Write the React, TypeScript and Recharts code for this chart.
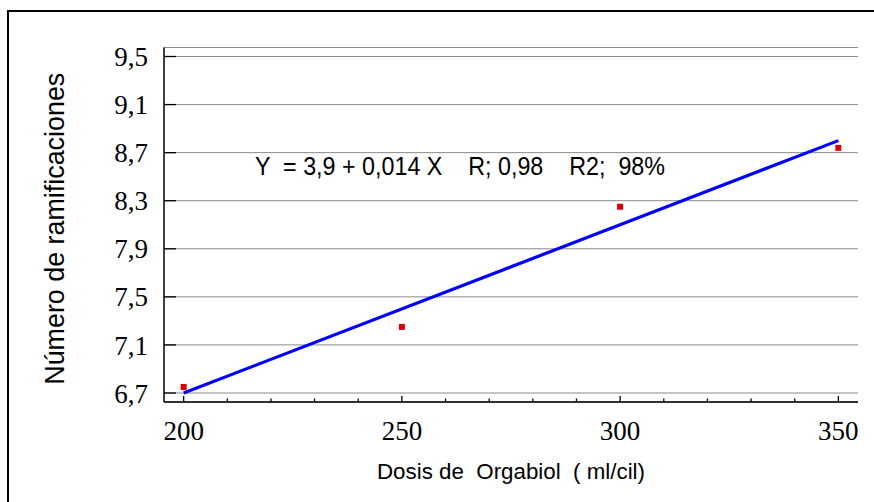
import React from "react";
import {
    ScatterChart,
    Scatter,
    XAxis,
    YAxis,
    CartesianGrid,
    Customized,
} from "recharts";

// observed values (red squares)
const dosis = [200, 250, 300, 350];
const ramificaciones = [6.75, 7.25, 8.25, 8.74];

// fitted line Y = 3,9 + 0,014 X, end points
const fitX = [200, 350];
const fitY = [6.7, 8.8];

const xTicks = [200, 210, 220, 230, 240, 250, 260, 270, 280, 290, 300, 310, 320, 330, 340, 350];
const xLabels = [200, 250, 300, 350];
const yTicks = [6.7, 7.1, 7.5, 7.9, 8.3, 8.7, 9.1, 9.5];

const points = dosis.map((x, i) => ({ x, y: ramificaciones[i] }));
const fitLine = fitX.map((x, i) => ({ x, y: fitY[i] }));

const serif = "'Liberation Serif', 'Times New Roman', serif";
const sans = "'Liberation Sans', Arial, sans-serif";

const BottomTick = (props: any) => {
    const { x, y, payload } = props;
    const axisY = y - 19;
    const major = xLabels.includes(payload.value);
    return (
        <g>
            <line x1={x} x2={x} y1={axisY} y2={axisY - (major ? 6 : 3.5)} stroke="#000" strokeWidth={1.3} />
            {major && (
                <text x={x} y={y} dy="0.71em" textAnchor="middle" fontFamily={serif} fontSize={27} fill="#000">
                    {payload.value}
                </text>
            )}
        </g>
    );
};

const TopTick = (props: any) => {
    const { x, y, payload } = props;
    const major = xLabels.includes(payload.value);
    return <line x1={x} x2={x} y1={y} y2={y + (major ? 6 : 3.5)} stroke="#000" strokeWidth={1.3} />;
};

const LeftTick = (props: any) => {
    const { x, y, payload } = props;
    const axisX = x + 16;
    return (
        <g>
            <line x1={axisX} x2={axisX + 12} y1={y} y2={y} stroke="#000" strokeWidth={1.3} />
            <text x={x} y={y} dy="0.355em" textAnchor="end" fontFamily={serif} fontSize={27} fill="#000">
                {payload.value.toFixed(1).replace(".", ",")}
            </text>
        </g>
    );
};

const RightTick = (props: any) => {
    const { x, y } = props;
    return <line x1={x} x2={x - 13} y1={y} y2={y} stroke="#000" strokeWidth={1.3} />;
};

const Square = (props: any) => {
    const { cx, cy } = props;
    return <rect x={cx - 3} y={cy - 3} width={6} height={6} fill="#dd0000" />;
};

const Nothing = () => <g />;

export default function App() {
    return (
        <div style={{ position: "absolute", left: 0, top: 0, width: 874, height: 502, overflow: "hidden", background: "#fff" }}>
            <div
                style={{
                    position: "absolute",
                    left: 7,
                    top: 10,
                    width: 900,
                    height: 600,
                    border: "2.5px solid #000",
                }}
            />
            <ScatterChart
                width={874}
                height={502}
                margin={{ top: 47.5, right: 16, bottom: 0, left: 0 }}
                style={{ position: "absolute", left: 0, top: 0 }}
            >
                <CartesianGrid vertical={false} stroke="#8a8a8a" strokeWidth={1} />
                <XAxis
                    type="number"
                    dataKey="x"
                    domain={[195.5, 354.5]}
                    ticks={xTicks}
                    interval={0}
                    height={100}
                    tickSize={0}
                    tickMargin={19}
                    tickLine={false}
                    axisLine={{ stroke: "#000", strokeWidth: 1.5 }}
                    tick={<BottomTick />}
                    allowDataOverflow
                    label={{
                        content: (p: any) => (
                            <text
                                x={p.viewBox.x + p.viewBox.width / 2}
                                y={p.viewBox.y + 77}
                                textAnchor="middle"
                                fontFamily={sans}
                                fontSize={22}
                                fill="#000"
                                textLength={268}
                                lengthAdjust="spacingAndGlyphs"
                                style={{ whiteSpace: "pre" }}
                            >
                                {"Dosis de  Orgabiol  ( ml/cil)"}
                            </text>
                        ),
                    }}
                />
                <XAxis
                    xAxisId="top"
                    orientation="top"
                    type="number"
                    dataKey="x"
                    domain={[195.5, 354.5]}
                    ticks={xTicks}
                    interval={0}
                    height={0}
                    tickSize={0}
                    tickMargin={0}
                    tickLine={false}
                    axisLine={{ stroke: "#000", strokeWidth: 1.5 }}
                    tick={<TopTick />}
                    allowDataOverflow
                />
                <YAxis
                    type="number"
                    dataKey="y"
                    domain={[6.625, 9.575]}
                    ticks={yTicks}
                    interval={0}
                    width={164}
                    tickSize={0}
                    tickMargin={16}
                    tickLine={false}
                    axisLine={{ stroke: "#000", strokeWidth: 1.5 }}
                    tick={<LeftTick />}
                    allowDataOverflow
                    label={{
                        content: (p: any) => {
                            const cx = p.viewBox.x + 54;
                            const cy = p.viewBox.y + p.viewBox.height / 2 + 4;
                            return (
                                <text
                                    x={cx}
                                    y={cy}
                                    transform={`rotate(-90 ${cx} ${cy})`}
                                    textAnchor="middle"
                                    dy="0.36em"
                                    fontFamily={sans}
                                    fontSize={27}
                                    fill="#000"
                                    textLength={312}
                                    lengthAdjust="spacingAndGlyphs"
                                >
                                    Número de ramificaciones
                                </text>
                            );
                        },
                    }}
                />
                <YAxis
                    yAxisId="right"
                    orientation="right"
                    type="number"
                    domain={[6.625, 9.575]}
                    ticks={yTicks}
                    interval={0}
                    width={0}
                    tickSize={0}
                    tickMargin={0}
                    tickLine={false}
                    axisLine={{ stroke: "#000", strokeWidth: 1.5 }}
                    tick={<RightTick />}
                    allowDataOverflow
                />
                <Scatter
                    data={fitLine}
                    fill="#0000ff"
                    line={{ stroke: "#0000ff", strokeWidth: 3.2 }}
                    shape={<Nothing />}
                    isAnimationActive={false}
                />
                <Scatter data={points} fill="#dd0000" shape={<Square />} isAnimationActive={false} />
                <Customized
                    component={() => (
                        <text
                            x={255}
                            y={175}
                            fontFamily={sans}
                            fontSize={25}
                            fill="#000"
                            textLength={410}
                            lengthAdjust="spacingAndGlyphs"
                            style={{ whiteSpace: "pre" }}
                        >
                            {"Y  = 3,9 + 0,014 X    R; 0,98    R2;  98%"}
                        </text>
                    )}
                />
            </ScatterChart>
        </div>
    );
}
